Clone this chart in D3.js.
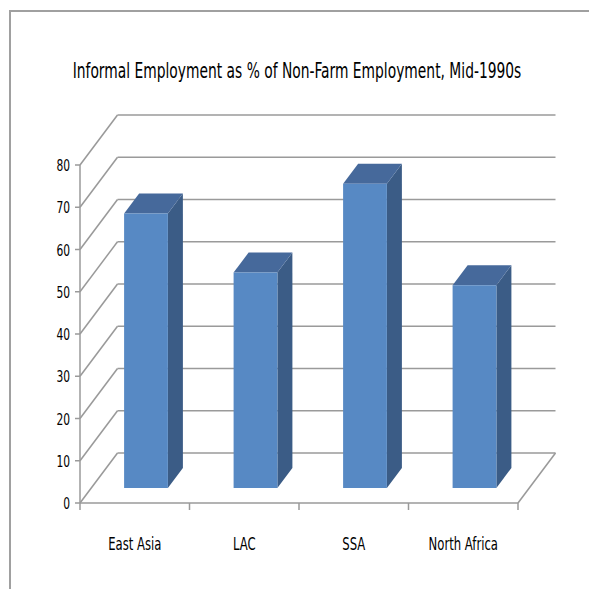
<!DOCTYPE html>
<html>
<head>
<meta charset="utf-8">
<script src="https://cdn.jsdelivr.net/npm/d3@7"></script>
<style>
  html, body { margin: 0; padding: 0; background: #fff; }
  svg { display: block; }
  text { font-family: "DejaVu Sans Condensed", "Liberation Sans Narrow", sans-serif; fill: #000; }
</style>
</head>
<body>
<svg id="chart" width="589" height="589"></svg>
<script>
// Informal employment as a share of non-farm employment, by region
const categories = ["East Asia", "LAC", "SSA", "North Africa"];
const values = [65, 51, 72, 48];
const yTicks = [0, 10, 20, 30, 40, 50, 60, 70, 80];
const titleText = "Informal Employment as % of Non-Farm Employment, Mid-1990s";

(function () {
  const svg = d3.select("#chart");

  // plot box (front plane) and oblique depth offset of the floor
  const plotLeft = 80, plotRight = 518, plotBottom = 503, plotTop = 165;
  const depthX = 37.5, depthY = -50;
  const barDepthFront = 0.3, barDepthBack = 0.7;

  const x = d3.scaleBand().domain(categories).range([plotLeft, plotRight]).paddingInner(0).paddingOuter(0);
  const y = d3.scaleLinear().domain([0, 80]).range([plotBottom, plotTop]);
  const barW = x.bandwidth() * 0.4;

  const gridColor = "#9a9a9a";

  // narrow, tall lettering: squeeze text horizontally by a fixed factor
  const squeeze = 0.74;

  // chart frame (top and left edges)
  svg.append("path")
    .attr("d", "M10,589 L10,11 L589,11")
    .attr("fill", "none").attr("stroke", "#a0a0a0").attr("stroke-width", 2);

  // title
  svg.append("text")
    .attr("transform", `translate(297,78) scale(0.7,1)`)
    .attr("text-anchor", "middle")
    .attr("font-size", 22)
    .text(titleText);

  // back wall gridlines
  svg.append("g").selectAll("line").data(yTicks).join("line")
    .attr("x1", plotLeft + depthX).attr("x2", plotRight + depthX)
    .attr("y1", d => y(d) + depthY).attr("y2", d => y(d) + depthY)
    .attr("stroke", gridColor).attr("stroke-width", 1.5);

  // side wall gridlines
  svg.append("g").selectAll("line").data(yTicks).join("line")
    .attr("x1", plotLeft).attr("x2", plotLeft + depthX)
    .attr("y1", d => y(d)).attr("y2", d => y(d) + depthY)
    .attr("stroke", gridColor).attr("stroke-width", 1.5);

  // floor right edge
  svg.append("line")
    .attr("x1", plotRight).attr("y1", y(0))
    .attr("x2", plotRight + depthX).attr("y2", y(0) + depthY)
    .attr("stroke", gridColor).attr("stroke-width", 1.5);

  // value axis
  const yAxis = svg.append("g");
  yAxis.append("line")
    .attr("x1", plotLeft).attr("x2", plotLeft).attr("y1", y(0)).attr("y2", y(80))
    .attr("stroke", gridColor).attr("stroke-width", 1.5);
  yAxis.selectAll("line.tick").data(yTicks).join("line").attr("class", "tick")
    .attr("x1", plotLeft - 5).attr("x2", plotLeft)
    .attr("y1", d => y(d)).attr("y2", d => y(d))
    .attr("stroke", gridColor).attr("stroke-width", 1.5);
  yAxis.selectAll("text").data(yTicks).join("text")
    .attr("transform", d => `translate(${plotLeft - 10},${y(d) + 6}) scale(0.72,1)`)
    .attr("text-anchor", "end")
    .attr("font-size", 16.5)
    .text(d => d);

  // category axis
  const xAxis = svg.append("g");
  xAxis.append("line")
    .attr("x1", plotLeft).attr("x2", plotRight).attr("y1", y(0)).attr("y2", y(0))
    .attr("stroke", gridColor).attr("stroke-width", 1.5);
  const tickXs = categories.map(c => x(c)).concat([plotRight]);
  xAxis.selectAll("line.tick").data(tickXs).join("line").attr("class", "tick")
    .attr("x1", d => d).attr("x2", d => d)
    .attr("y1", y(0)).attr("y2", y(0) + 7)
    .attr("stroke", gridColor).attr("stroke-width", 1.5);
  xAxis.selectAll("text").data(categories).join("text")
    .attr("transform", d => `translate(${x(d) + x.bandwidth() / 2},550) scale(${squeeze},1)`)
    .attr("text-anchor", "middle")
    .attr("font-size", 17.5)
    .text(d => d);

  // 3D bars: side, top and front faces
  const P = (px, v, z) => [px + z * depthX, y(v) + z * depthY];
  const poly = pts => "M" + pts.map(p => p.join(",")).join("L") + "Z";
  const bars = svg.append("g").selectAll("g")
    .data(categories.map((c, i) => ({ c, v: values[i] }))).join("g");

  bars.each(function (d) {
    const g = d3.select(this);
    const x0 = x(d.c) + (x.bandwidth() - barW) / 2, x1 = x0 + barW;
    const zf = barDepthFront, zb = barDepthBack;
    g.append("path")
      .attr("d", poly([P(x1, 0, zf), P(x1, d.v, zf), P(x1, d.v, zb), P(x1, 0, zb)]))
      .attr("fill", "#3b5c86");
    g.append("path")
      .attr("d", poly([P(x0, d.v, zf), P(x1, d.v, zf), P(x1, d.v, zb), P(x0, d.v, zb)]))
      .attr("fill", "#46699b");
    g.append("path")
      .attr("d", poly([P(x0, 0, zf), P(x1, 0, zf), P(x1, d.v, zf), P(x0, d.v, zf)]))
      .attr("fill", "#5789c4");
  });
})();
</script>
</body>
</html>
